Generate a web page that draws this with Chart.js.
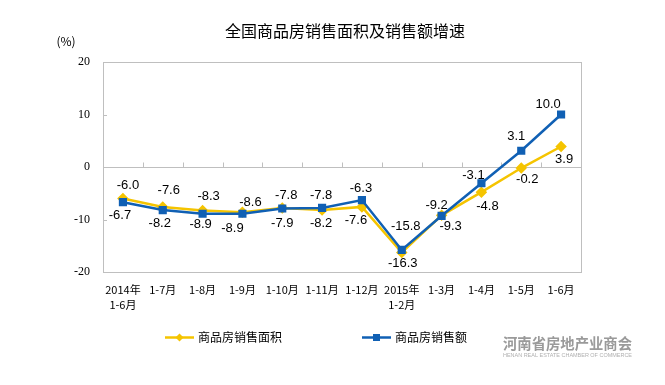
<!DOCTYPE html>
<html>
<head>
<meta charset="utf-8">
<script src="https://cdn.jsdelivr.net/npm/chart.js@4/dist/chart.umd.min.js"></script>
<style>
  html, body { margin: 0; padding: 0; background: #fff; }
  #wrap { width: 665px; height: 385px; position: relative; }
</style>
</head>
<body>
<div id="wrap"><canvas id="myChart" width="665" height="385"></canvas></div>
<script>
// categories (x axis), multi-line labels
const months = [
    ["2014年", "1-6月"], "1-7月", "1-8月", "1-9月", "1-10月", "1-11月", "1-12月",
    ["2015年", "1-2月"], "1-3月", "1-4月", "1-5月", "1-6月"
];
// 商品房销售面积 增速 (%)
const areaGrowth = [-6.0, -7.6, -8.3, -8.6, -7.8, -8.2, -7.6, -16.3, -9.2, -4.8, -0.2, 3.9];
// 商品房销售额 增速 (%)
const salesGrowth = [-6.7, -8.2, -8.9, -8.9, -7.9, -7.8, -6.3, -15.8, -9.3, -3.1, 3.1, 10.0];
// y axis ticks
const yTicks = [-20, -10, 0, 10, 20];

// where each value label sits relative to its point [dx, dy] (px)
const areaLabelOffsets = [[5, -13], [6, -16], [6, -14], [8, -10], [4, -13], [-1, 13], [-6, 14],
    [1, 11], [-5, -10], [6, 14], [6, 11], [3, 13]];
const salesLabelOffsets = [[-3, 13], [-3, 13], [-2, 11], [-10, 15], [0, 15], [-1, -13], [-1, -12],
    [4, -24], [9, 11], [-8, -8], [-5, -14], [-13, -10]];

const YELLOW = "#F5C400";
const BLUE = "#1060B4";
const AXIS = "#bfbfbf";

const decorPlugin = {
    id: "decor",
    beforeDatasetsDraw(chart) {
        const { ctx, chartArea: a, scales: { x, y } } = chart;
        ctx.save();
        ctx.strokeStyle = AXIS;
        ctx.lineWidth = 1;
        // frame
        ctx.strokeRect(Math.round(a.left) + 0.5, Math.round(a.top) + 0.5,
            Math.round(a.right - a.left), Math.round(a.bottom - a.top));
        // zero line with category tick marks
        const y0 = Math.round(y.getPixelForValue(0)) + 0.5;
        ctx.beginPath();
        ctx.moveTo(a.left, y0);
        ctx.lineTo(a.right, y0);
        for (let i = 1; i < months.length; i++) {
            const xp = Math.round((x.getPixelForValue(i - 1) + x.getPixelForValue(i)) / 2) + 0.5;
            ctx.moveTo(xp, y0);
            ctx.lineTo(xp, y0 - 5);
        }
        // small inner ticks on y axis
        yTicks.forEach(v => {
            const yp = Math.round(y.getPixelForValue(v)) + 0.5;
            ctx.moveTo(a.left, yp);
            ctx.lineTo(a.left + 4, yp);
        });
        ctx.stroke();
        // unit
        ctx.fillStyle = "#000";
        ctx.font = "12px 'Noto Sans CJK SC'";
        ctx.textAlign = "center";
        ctx.textBaseline = "middle";
        ctx.fillText("(%)", 66, 41);
        ctx.restore();
    },
    afterDatasetsDraw(chart) {
        const { ctx } = chart;
        ctx.save();
        ctx.font = "13px 'Liberation Sans', Arial";
        ctx.fillStyle = "#000";
        ctx.textAlign = "center";
        ctx.textBaseline = "middle";
        const offsets = [areaLabelOffsets, salesLabelOffsets];
        chart.data.datasets.forEach((ds, di) => {
            chart.getDatasetMeta(di).data.forEach((pt, i) => {
                const off = offsets[di][i];
                ctx.fillText(ds.data[i].toFixed(1), pt.x + off[0], pt.y + off[1]);
            });
        });
        ctx.restore();
    },
    afterDraw(chart) {
        const { ctx } = chart;
        ctx.save();
        // title
        ctx.fillStyle = "#000";
        ctx.font = "16px 'Noto Sans CJK SC'";
        ctx.textAlign = "center";
        ctx.textBaseline = "middle";
        ctx.fillText("全国商品房销售面积及销售额增速", 345, 31);

        // legend
        const items = [
            { label: chart.data.datasets[0].label, color: YELLOW, x: 165, diamond: true },
            { label: chart.data.datasets[1].label, color: BLUE, x: 362, diamond: false }
        ];
        const ly = 337.5;
        ctx.font = "12px 'Noto Sans CJK SC'";
        ctx.textAlign = "left";
        items.forEach(it => {
            ctx.strokeStyle = it.color;
            ctx.fillStyle = it.color;
            ctx.lineWidth = 2.5;
            ctx.beginPath();
            ctx.moveTo(it.x, ly);
            ctx.lineTo(it.x + 29, ly);
            ctx.stroke();
            const cx = it.x + 14.5;
            ctx.beginPath();
            if (it.diamond) {
                ctx.moveTo(cx, ly - 4); ctx.lineTo(cx + 4, ly); ctx.lineTo(cx, ly + 4); ctx.lineTo(cx - 4, ly);
                ctx.closePath();
                ctx.fill();
            } else {
                ctx.fillRect(cx - 3.5, ly - 3.5, 7, 7);
            }
            ctx.fillStyle = "#000";
            ctx.fillText(it.label, it.x + 33, ly);
        });

        // watermark
        ctx.fillStyle = "#9a9a9a";
        ctx.font = "bold 15px 'Noto Sans CJK SC'";
        ctx.textAlign = "left";
        const wm = "河南省房地产业商会";
        const w1 = ctx.measureText(wm).width;
        ctx.save();
        ctx.translate(503, 343);
        ctx.scale(129 / w1, 1);
        ctx.fillText(wm, 0, 0);
        ctx.restore();
        ctx.fillStyle = "#b0b0b0";
        ctx.font = "5px 'Liberation Sans'";
        const sub = "HENAN REAL ESTATE CHAMBER OF COMMERCE";
        const w2 = ctx.measureText(sub).width;
        ctx.translate(503, 356);
        ctx.scale(129 / w2, 1);
        ctx.fillText(sub, 0, 0);
        ctx.restore();
    }
};

new Chart(document.getElementById("myChart").getContext("2d"), {
    type: "line",
    data: {
        labels: months,
        datasets: [
            {
                label: "商品房销售面积",
                data: areaGrowth,
                borderColor: YELLOW,
                backgroundColor: YELLOW,
                borderWidth: 2.5,
                pointStyle: "rectRot",
                pointRadius: 4,
                tension: 0,
                order: 2
            },
            {
                label: "商品房销售额",
                data: salesGrowth,
                borderColor: BLUE,
                backgroundColor: BLUE,
                borderWidth: 2.5,
                pointStyle: "rect",
                pointRadius: 4,
                tension: 0,
                order: 1
            }
        ]
    },
    options: {
        responsive: false,
        animation: false,
        layout: { padding: { left: 0, top: 62, right: 84, bottom: 63 } },
        plugins: {
            legend: { display: false },
            title: { display: false },
            tooltip: { enabled: false }
        },
        scales: {
            x: {
                offset: true,
                grid: { display: false, drawTicks: false },
                border: { display: false },
                ticks: {
                    color: "#000",
                    font: { family: "'Noto Sans CJK SC'", size: 11, lineHeight: 1.4 },
                    padding: 10,
                    maxRotation: 0,
                    autoSkip: false
                },
                afterFit(scale) { scale.height = 50; }
            },
            y: {
                min: -20,
                max: 20,
                grid: { display: false, drawTicks: false },
                border: { display: false },
                afterBuildTicks(scale) { scale.ticks = yTicks.map(v => ({ value: v })); },
                ticks: {
                    color: "#000",
                    font: { family: "'Liberation Serif', 'Times New Roman'", size: 12 },
                    padding: 13
                },
                afterFit(scale) { scale.width = 103; }
            }
        }
    },
    plugins: [decorPlugin]
});
</script>
</body>
</html>
